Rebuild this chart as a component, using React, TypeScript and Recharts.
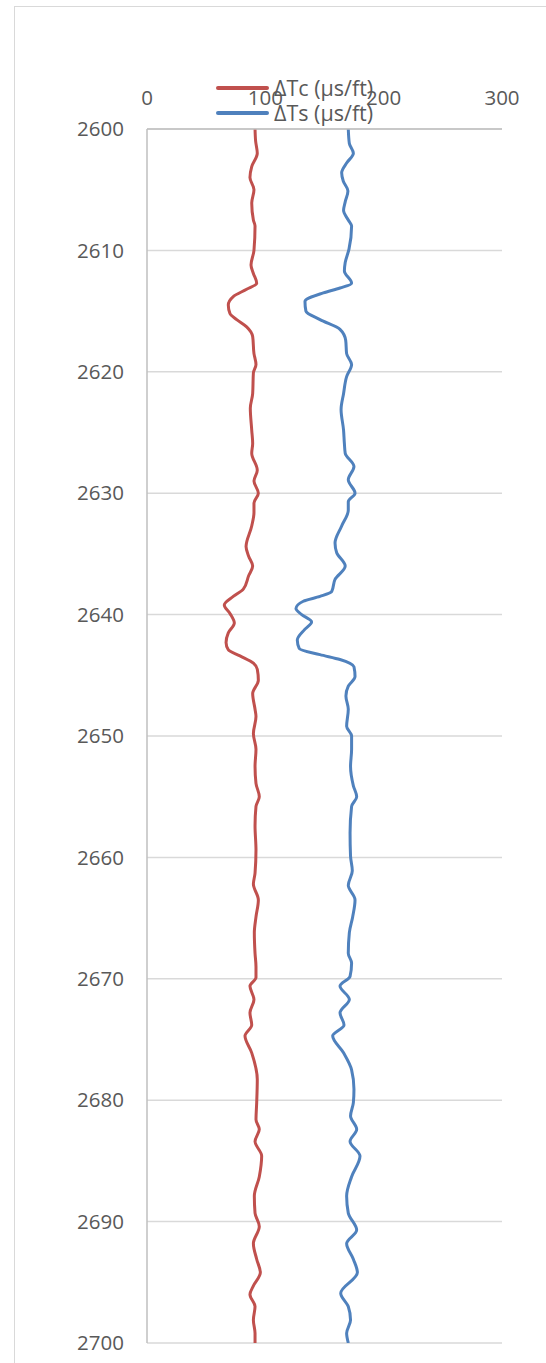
import React from "react";
import { LineChart, Line, XAxis, YAxis, CartesianGrid, Legend } from "recharts";

const depthTicks = [2600, 2610, 2620, 2630, 2640, 2650, 2660, 2670, 2680, 2690, 2700];
const valueTicks = [0, 100, 200, 300];

const tcDepth = [
  2600.0, 2601.0, 2602.0, 2603.1, 2604.0, 2605.0, 2606.1, 2607.5, 2608.0, 2610.0,
  2611.2, 2611.9, 2612.7, 2613.2, 2613.8, 2614.5, 2615.2, 2615.7, 2616.3, 2617.1,
  2618.5, 2619.4, 2620.1, 2621.8, 2623.0, 2624.8, 2625.9, 2626.7, 2628.1, 2629.0,
  2630.0, 2630.8, 2631.6, 2632.7, 2634.4, 2635.2, 2636.0, 2636.8, 2637.9, 2638.5,
  2639.2, 2639.9, 2640.7, 2641.5, 2642.3, 2642.9, 2643.4, 2644.0, 2644.5, 2645.4,
  2646.5, 2647.8, 2648.4, 2649.8, 2651.1, 2652.5, 2653.9, 2655.0, 2655.8, 2657.4,
  2659.4, 2661.3, 2662.2, 2663.5, 2664.9, 2666.2, 2667.9, 2669.0, 2669.9, 2670.6,
  2671.7, 2672.8, 2673.8, 2674.7, 2676.1, 2678.3, 2680.2, 2681.6, 2682.4, 2683.4,
  2684.6, 2686.3, 2687.9, 2689.3, 2690.4, 2691.8, 2693.1, 2694.2, 2695.3, 2696.0,
  2697.0, 2698.1, 2699.2, 2700.0,
];
const tcValues = [
  91.3, 91.8, 93.2, 88.5, 87.0, 90.4, 88.5, 89.9, 91.3, 90.4,
  87.9, 89.9, 92.7, 84.2, 72.9, 68.7, 70.1, 75.8, 84.2, 89.3,
  90.4, 92.1, 89.9, 89.3, 87.3, 88.5, 89.3, 88.5, 93.2, 90.4,
  94.1, 90.4, 90.4, 88.5, 83.7, 85.9, 89.3, 85.9, 81.4, 72.9,
  65.3, 70.1, 73.8, 68.7, 66.8, 68.7, 78.6, 89.9, 93.2, 94.1,
  89.3, 91.3, 92.1, 89.9, 92.1, 91.3, 92.1, 94.9, 92.1, 91.3,
  92.1, 91.3, 89.9, 94.1, 92.1, 90.7, 91.3, 92.1, 92.1, 87.0,
  90.4, 87.0, 88.5, 82.8, 88.5, 93.2, 92.7, 92.1, 94.9, 91.3,
  96.9, 94.9, 90.7, 91.3, 94.9, 89.9, 92.7, 95.8, 89.9, 87.0,
  91.3, 89.9, 91.3, 91.3,
];

const tsDepth = [
  2600.0, 2601.2, 2602.0, 2602.8, 2603.6, 2604.3, 2605.1, 2606.0, 2606.7, 2607.5,
  2608.0, 2609.9, 2611.0, 2611.7, 2612.7, 2613.1, 2613.5, 2614.2, 2615.0, 2615.7,
  2616.5, 2617.4, 2618.5, 2619.4, 2620.4, 2621.8, 2623.1, 2624.8, 2625.9, 2626.7,
  2627.8, 2628.9, 2630.0, 2630.7, 2631.4, 2632.7, 2634.1, 2634.9, 2636.0, 2637.1,
  2638.1, 2638.5, 2638.9, 2639.5, 2640.0, 2640.6, 2641.2, 2642.1, 2642.8, 2643.3,
  2643.7, 2644.3, 2645.1, 2645.9, 2646.7, 2647.8, 2649.2, 2650.0, 2651.1, 2652.5,
  2654.1, 2655.0, 2655.8, 2658.0, 2659.9, 2661.1, 2662.3, 2663.5, 2664.9, 2666.2,
  2667.9, 2668.7, 2669.8, 2670.6, 2671.7, 2672.8, 2673.8, 2674.7, 2676.1, 2677.5,
  2679.1, 2680.2, 2681.3, 2682.4, 2683.4, 2684.6, 2686.3, 2687.9, 2689.3, 2690.7,
  2691.8, 2693.1, 2694.2, 2695.9, 2697.0, 2698.1, 2699.2, 2700.0,
];
const tsValues = [
  170.1, 171.0, 174.4, 168.7, 164.5, 165.9, 169.8, 167.5, 166.1, 170.1,
  172.9, 170.7, 167.5, 166.8, 172.9, 163.1, 149.0, 133.5, 134.3, 146.2,
  163.1, 167.9, 168.7, 172.9, 168.7, 166.1, 164.0, 166.1, 166.8, 167.5,
  174.9, 170.1, 175.8, 170.1, 170.1, 164.5, 158.9, 160.3, 167.5, 158.9,
  156.1, 146.2, 132.1, 125.9, 130.7, 139.1, 133.5, 127.0, 128.7, 146.2,
  163.1, 174.9, 175.8, 170.1, 168.1, 170.1, 168.7, 172.9, 172.9, 172.0,
  174.4, 177.2, 172.9, 171.6, 172.0, 173.5, 170.1, 175.8, 173.8, 171.0,
  170.1, 172.9, 171.6, 163.1, 171.0, 163.1, 166.5, 156.9, 166.1, 172.9,
  174.9, 174.4, 172.0, 177.2, 171.6, 180.0, 172.9, 168.7, 170.1, 177.2,
  168.7, 174.4, 177.8, 163.7, 170.1, 172.0, 168.7, 170.1,
];

const seriesNames = ["ΔTc (µs/ft)", "ΔTs (µs/ft)"];
const seriesColors = ["#c0504d", "#4f81bd"];

const tcData = tcDepth.map((d, i) => ({ depth: d, tc: tcValues[i] }));
const tsData = tsDepth.map((d, i) => ({ depth: d, ts: tsValues[i] }));

const FONT = "'Open Sans', 'Liberation Sans', sans-serif";
const TEXT = "#595959";

const LegendBox = () => (
  <div style={{ fontFamily: FONT, fontSize: 21.5, color: TEXT, lineHeight: "25px" }}>
    {seriesNames.map((n, i) => (
      <div key={n} style={{ display: "flex", alignItems: "center", height: 25, whiteSpace: "nowrap" }}>
        <div style={{ width: 53, height: 4, borderRadius: 2, background: seriesColors[i], marginRight: 5 }} />
        <span>{n}</span>
      </div>
    ))}
  </div>
);

export default function App() {
  return (
    <div style={{ position: "relative", width: 546, height: 1363, background: "#fff", overflow: "hidden" }}>
      <style>{`body{margin:0;}`}</style>
      <div
        style={{
          position: "absolute",
          left: 14,
          top: 6,
          width: 532,
          height: 1357,
          borderLeft: "1px solid #d9d9d9",
          borderTop: "1px solid #d9d9d9",
          boxSizing: "border-box",
        }}
      />
      <LineChart
        width={546}
        height={1363}
        layout="vertical"
        margin={{ top: 99, right: 44, bottom: 20, left: 0 }}
        style={{ position: "absolute", left: 0, top: 0 }}
      >
        <CartesianGrid horizontal vertical={false} stroke="#d9d9d9" strokeWidth={1.5} />
        <XAxis
          type="number"
          orientation="top"
          domain={[0, 300]}
          ticks={valueTicks}
          height={30}
          tickLine={false}
          tickSize={6}
          tickMargin={18}
          axisLine={{ stroke: "#bfbfbf", strokeWidth: 1.5 }}
          tick={{ fill: TEXT, fontSize: 20.5, fontFamily: FONT }}
          interval={0}
        />
        <YAxis
          type="number"
          dataKey="depth"
          domain={[2600, 2700]}
          ticks={depthTicks}
          width={147}
          tickLine={false}
          tickSize={6}
          tickMargin={17}
          axisLine={{ stroke: "#bfbfbf", strokeWidth: 1.5 }}
          tick={{ fill: TEXT, fontSize: 20.5, fontFamily: FONT }}
          interval={0}
          allowDataOverflow
        />
        <Legend
          layout="vertical"
          align="center"
          verticalAlign="middle"
          content={() => <LegendBox />}
          wrapperStyle={{ top: 75, left: 216, width: 230 }}
        />
        <Line
          data={tcData}
          dataKey="tc"
          name={seriesNames[0]}
          type="monotone"
          stroke={seriesColors[0]}
          strokeWidth={3}
          dot={false}
          isAnimationActive={false}
        />
        <Line
          data={tsData}
          dataKey="ts"
          name={seriesNames[1]}
          type="monotone"
          stroke={seriesColors[1]}
          strokeWidth={3}
          dot={false}
          isAnimationActive={false}
        />
      </LineChart>
    </div>
  );
}
